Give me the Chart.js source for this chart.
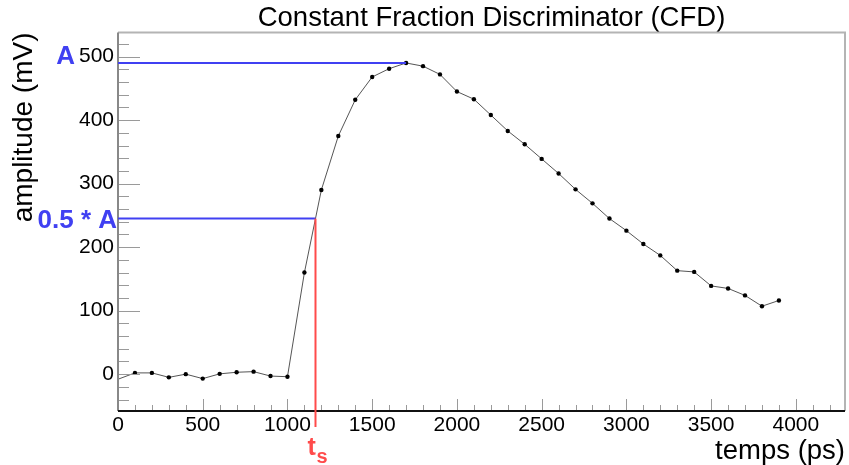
<!DOCTYPE html>
<html>
<head>
<meta charset="utf-8">
<script src="https://cdn.jsdelivr.net/npm/chart.js@4.4.1/dist/chart.umd.min.js"></script>
<style>
  html, body { margin: 0; padding: 0; background: #fff; }
</style>
</head>
<body>
<canvas id="chart_cfd" width="849" height="465"></canvas>
<script>
const temps = [0, 100, 200, 300, 400, 500, 600, 700, 800, 900,
               1000, 1100, 1200, 1300, 1400, 1500, 1600, 1700, 1800, 1900,
               2000, 2100, 2200, 2300, 2400, 2500, 2600, 2700, 2800, 2900,
               3000, 3100, 3200, 3300, 3400, 3500, 3600, 3700, 3800, 3900]
const amplitudes = [-8, 2, 2, -5, 0, -7, 0.5, 3, 4, -3,
                    -4, 160, 290, 375, 432, 468, 481, 490, 485, 472,
                    445, 433, 408, 383, 362, 339, 316, 291, 269, 245,
                    226, 205, 187, 163, 161, 139, 135, 124, 107, 116]
const xTicks = [0, 500, 1000, 1500, 2000, 2500, 3000, 3500, 4000]
const yTicks = [0, 100, 200, 300, 400, 500]
const xRange = [0, 4290]
const yRange = [-58, 538]
const fraction = 0.5

const font = '"Liberation Sans", Arial, sans-serif'
const blue = '#4040f2'
const red = '#ff4b4b'

// amplitude A, seuil 0.5*A et temps t_s (interpolation lineaire)
const peak = Math.max(...amplitudes)
const seuil = fraction * peak
let ts = 0
for (let i = 1; i < amplitudes.length; i++) {
    if (amplitudes[i - 1] < seuil && amplitudes[i] >= seuil) {
        ts = temps[i - 1] + (seuil - amplitudes[i - 1]) / (amplitudes[i] - amplitudes[i - 1]) * (temps[i] - temps[i - 1])
        break
    }
}
const tPeak = temps[amplitudes.indexOf(peak)]

const cfdOverlay = {
    id: 'cfdOverlay',
    afterLayout(chart) {
        // titre un peu decale vers la droite, comme dans ROOT
        if (chart.titleBlock) chart.titleBlock.left += 20
    },
    afterDatasetsDraw(chart) {
        const {ctx, chartArea: a, scales: {x, y}} = chart
        ctx.save()

        // ticks a l'interieur du cadre (style ROOT)
        ctx.strokeStyle = '#9a9a9a'
        ctx.lineWidth = 1
        ctx.beginPath()
        for (let v = Math.ceil(yRange[0] / 20) * 20; v <= yRange[1]; v += 20) {
            const py = Math.round(y.getPixelForValue(v)) + 0.5
            const len = yTicks.includes(v) ? 22 : 11
            ctx.moveTo(a.left, py)
            ctx.lineTo(a.left + len, py)
        }
        for (let v = 100; v <= xRange[1]; v += 100) {
            const px = Math.round(x.getPixelForValue(v)) + 0.5
            const len = xTicks.includes(v) ? 12 : 6
            ctx.moveTo(px, a.bottom)
            ctx.lineTo(px, a.bottom - len)
        }
        ctx.stroke()

        // cadre
        ctx.strokeStyle = '#b4b4b4'
        ctx.lineWidth = 2
        ctx.beginPath()
        ctx.moveTo(a.left, a.top)
        ctx.lineTo(a.right, a.top)
        ctx.lineTo(a.right, a.bottom)
        ctx.stroke()
        ctx.strokeStyle = '#888'
        ctx.beginPath()
        ctx.moveTo(a.left, a.top)
        ctx.lineTo(a.left, a.bottom)
        ctx.stroke()
        ctx.strokeStyle = '#111'
        ctx.beginPath()
        ctx.moveTo(a.left, a.bottom)
        ctx.lineTo(a.right, a.bottom)
        ctx.stroke()

        // lignes A et 0.5*A
        const yA = y.getPixelForValue(peak)
        const yS = y.getPixelForValue(seuil)
        const xP = x.getPixelForValue(tPeak)
        const xS = x.getPixelForValue(ts)
        ctx.lineWidth = 2
        ctx.strokeStyle = blue
        ctx.beginPath()
        ctx.moveTo(a.left, yA)
        ctx.lineTo(xP, yA)
        ctx.moveTo(a.left, yS)
        ctx.lineTo(xS, yS)
        ctx.stroke()
        ctx.strokeStyle = red
        ctx.beginPath()
        ctx.moveTo(xS, yS)
        ctx.lineTo(xS, a.bottom + 16)
        ctx.stroke()

        // textes
        ctx.fillStyle = blue
        ctx.textAlign = 'right'
        ctx.textBaseline = 'alphabetic'
        ctx.font = 'bold 26px ' + font
        ctx.fillText('A', a.left - 43, yA + 1)
        ctx.fillText('0.5 * A', a.left - 1, yS + 9)
        ctx.fillStyle = red
        ctx.textAlign = 'left'
        ctx.font = 'bold 25px ' + font
        ctx.fillText('t', xS - 8, a.bottom + 44)
        ctx.font = 'bold 20px ' + font
        ctx.fillText('s', xS + 1, a.bottom + 52)
        ctx.restore()
    }
}

const ctx = document.getElementById('chart_cfd')

let chartCfd = new Chart(ctx, {
    type: 'line',
    data: {
        datasets: [{
            label: 'CFD',
            data: temps.map((t, i) => ({x: t, y: amplitudes[i]})),
            borderColor: '#555',
            borderWidth: 1,
            pointRadius: temps.map(t => t === 0 ? 0 : 2.2),
            pointBackgroundColor: '#000',
            pointBorderWidth: 0,
            tension: 0,
            fill: false
        }]
    },
    options: {
        responsive: false,
        animation: false,
        layout: {padding: {top: 0, right: 4, left: 0, bottom: 0}},
        plugins: {
            legend: {display: false},
            tooltip: {enabled: false},
            title: {
                display: true,
                fullSize: false,
                text: 'Constant Fraction Discriminator (CFD)',
                color: '#000',
                font: {family: font, size: 27.5, weight: 'normal', lineHeight: 1},
                padding: {top: 5, bottom: 0}
            }
        },
        scales: {
            x: {
                type: 'linear',
                min: xRange[0],
                max: xRange[1],
                afterBuildTicks: s => { s.ticks = xTicks.map(v => ({value: v})) },
                afterFit: s => { s.height = 54 },
                grid: {display: false, drawTicks: false},
                border: {display: false},
                ticks: {
                    color: '#000',
                    font: {family: font, size: 21},
                    padding: 2,
                    maxRotation: 0,
                    autoSkip: false,
                    callback: value => String(value)
                },
                title: {
                    display: true,
                    text: 'temps (ps)',
                    align: 'end',
                    color: '#000',
                    font: {family: font, size: 27.5, lineHeight: 1},
                    padding: {top: 0, bottom: 0}
                }
            },
            y: {
                min: yRange[0],
                max: yRange[1],
                afterBuildTicks: s => { s.ticks = yTicks.map(v => ({value: v})) },
                afterFit: s => { s.width = 118 },
                grid: {display: false, drawTicks: false},
                border: {display: false},
                ticks: {
                    color: '#000',
                    font: {family: font, size: 21},
                    padding: 4,
                    callback: value => String(value)
                },
                title: {
                    display: true,
                    text: 'amplitude (mV)',
                    align: 'end',
                    color: '#000',
                    font: {family: font, size: 28, lineHeight: 1},
                    padding: {top: 10, bottom: 0}
                }
            }
        }
    },
    plugins: [cfdOverlay]
})
</script>
</body>
</html>
